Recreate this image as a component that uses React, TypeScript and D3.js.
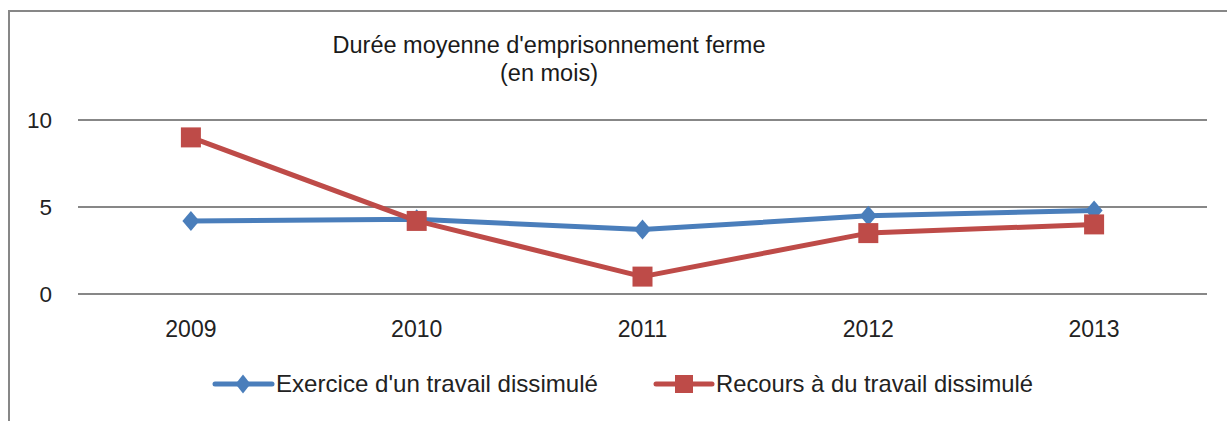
import { useEffect, useRef } from "react";
import * as d3 from "d3";

const years = ["2009", "2010", "2011", "2012", "2013"];
const exerciceValues = [4.2, 4.3, 3.7, 4.5, 4.8];
const recoursValues = [9.0, 4.2, 1.0, 3.5, 4.0];
const yTicks = [0, 5, 10];
const titleLines = ["Durée moyenne d'emprisonnement ferme", "(en mois)"];
const seriesNames = ["Exercice d'un travail dissimulé", "Recours à du travail dissimulé"];

const BLUE = "#4A7EBB";
const RED = "#BE4B48";
const GRID = "#878787";
const FONT = "'Liberation Sans', Arial, sans-serif";

export default function App() {
    const svgRef = useRef<SVGSVGElement>(null);

    useEffect(() => {
        if (!svgRef.current) return;
        const svg = d3.select(svgRef.current);
        svg.selectAll("*").remove();

        const width = 1227;
        const height = 421;
        svg.attr("width", width).attr("height", height);

        // outer chart frame (runs past the right and bottom of the picture)
        svg.append("rect")
            .attr("x", 9).attr("y", 11)
            .attr("width", 1240).attr("height", 430)
            .attr("fill", "#fff")
            .attr("stroke", GRID)
            .attr("stroke-width", 2);

        const x = d3.scaleBand().domain(years).range([78, 1207]);
        const cx = (d: string) => (x(d) as number) + x.bandwidth() / 2;
        const y = d3.scaleLinear().domain([0, 10]).range([294, 120]);

        // gridlines
        svg.append("g")
            .selectAll("line")
            .data(yTicks)
            .join("line")
            .attr("x1", 78).attr("x2", 1207)
            .attr("y1", d => y(d)).attr("y2", d => y(d))
            .attr("stroke", GRID)
            .attr("stroke-width", 2);

        // y tick labels
        svg.append("g")
            .selectAll("text")
            .data(yTicks)
            .join("text")
            .attr("x", 52)
            .attr("y", d => y(d))
            .attr("dy", "0.35em")
            .attr("text-anchor", "end")
            .attr("font-family", FONT)
            .attr("font-size", 22.5)
            .attr("fill", "#222")
            .text(d => d);

        // x labels
        svg.append("g")
            .selectAll("text")
            .data(years)
            .join("text")
            .attr("x", d => cx(d))
            .attr("y", 337)
            .attr("text-anchor", "middle")
            .attr("font-family", FONT)
            .attr("font-size", 23)
            .attr("fill", "#222")
            .text(d => d);

        // title
        svg.append("g")
            .selectAll("text")
            .data(titleLines)
            .join("text")
            .attr("x", 549)
            .attr("y", (_, i) => 53 + i * 28)
            .attr("text-anchor", "middle")
            .attr("font-family", FONT)
            .attr("font-size", 23.5)
            .attr("fill", "#1a1a1a")
            .text(d => d);

        const line = d3.line<number>()
            .x((_, i) => cx(years[i]))
            .y(d => y(d));

        const diamond = (g: any, px: number, py: number, w: number, h: number, color: string) =>
            g.append("path")
                .attr("d", `M${px},${py - h / 2}L${px + w / 2},${py}L${px},${py + h / 2}L${px - w / 2},${py}Z`)
                .attr("fill", color);

        // blue series
        svg.append("path")
            .datum(exerciceValues)
            .attr("fill", "none")
            .attr("stroke", BLUE)
            .attr("stroke-width", 5)
            .attr("stroke-linejoin", "round")
            .attr("d", line);

        // red series
        svg.append("path")
            .datum(recoursValues)
            .attr("fill", "none")
            .attr("stroke", RED)
            .attr("stroke-width", 5)
            .attr("stroke-linejoin", "round")
            .attr("d", line);

        const markers = svg.append("g");
        exerciceValues.forEach((v, i) => diamond(markers, cx(years[i]), y(v), 17, 20, BLUE));
        markers.selectAll("rect")
            .data(recoursValues)
            .join("rect")
            .attr("x", (_, i) => cx(years[i]) - 10)
            .attr("y", d => y(d) - 10)
            .attr("width", 20).attr("height", 20)
            .attr("fill", RED);

        // legend
        const legend = svg.append("g");
        const ly = 384;
        legend.append("line")
            .attr("x1", 215).attr("x2", 272).attr("y1", ly).attr("y2", ly)
            .attr("stroke", BLUE).attr("stroke-width", 5)
            .attr("stroke-linecap", "round");
        diamond(legend, 243, ly, 15, 19, BLUE);
        legend.append("text")
            .attr("x", 276).attr("y", ly + 8)
            .attr("font-family", FONT).attr("font-size", 24)
            .attr("fill", "#222")
            .attr("textLength", 322).attr("lengthAdjust", "spacingAndGlyphs")
            .text(seriesNames[0]);

        legend.append("line")
            .attr("x1", 656).attr("x2", 712).attr("y1", ly).attr("y2", ly)
            .attr("stroke", RED).attr("stroke-width", 5)
            .attr("stroke-linecap", "round");
        legend.append("rect")
            .attr("x", 675).attr("y", ly - 9)
            .attr("width", 18).attr("height", 18)
            .attr("fill", RED);
        legend.append("text")
            .attr("x", 716).attr("y", ly + 8)
            .attr("font-family", FONT).attr("font-size", 24)
            .attr("fill", "#222")
            .attr("textLength", 317).attr("lengthAdjust", "spacingAndGlyphs")
            .text(seriesNames[1]);
    }, []);

    return (
        <div style={{ position: "absolute", left: 0, top: 0, background: "#fff" }}>
            <svg ref={svgRef} style={{ display: "block" }}></svg>
        </div>
    );
}
